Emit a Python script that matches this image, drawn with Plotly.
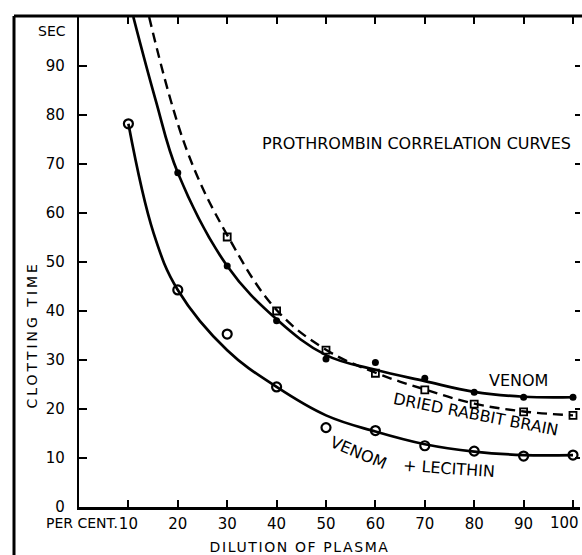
import plotly.graph_objects as go

# ---- data ----
dilution_ticks = [10, 20, 30, 40, 50, 60, 70, 80, 90, 100]
tick_text_x = ["10", "20", "30", "40", "50", "60", "70", "80", "90", ""]
last_tick_label = "100"
time_ticks = [0, 10, 20, 30, 40, 50, 60, 70, 80, 90]

venom_x = [20, 30, 40, 50, 60, 70, 80, 90, 100]
venom_y = [68.2, 49.2, 38.0, 30.2, 29.5, 26.3, 23.4, 22.4, 22.4]

brain_x = [30, 40, 50, 60, 70, 80, 90, 100]
brain_y = [55.1, 40.0, 32.0, 27.3, 23.9, 21.0, 19.4, 18.7]

lecithin_x = [10, 20, 30, 40, 50, 60, 70, 80, 90, 100]
lecithin_y = [78.2, 44.3, 35.3, 24.5, 16.2, 15.6, 12.5, 11.4, 10.4, 10.6]

# fitted curves as drawn in the reference
venom_curve_x = [11.0, 15.5, 20, 30, 40, 50, 60, 70, 80, 90, 100]
venom_curve_y = [100, 83.1, 68.2, 49.2, 38.3, 31.0, 28.0, 25.7, 23.5, 22.5, 22.4]

brain_curve_x = [14.2, 21.8, 30, 40, 50, 60, 70, 80, 90, 100]
brain_curve_y = [100, 72.9, 55.5, 40.2, 32.1, 27.4, 24.0, 21.1, 19.5, 18.7]

lecithin_curve_x = [10, 15.1, 20, 30, 40, 50, 60, 70, 80, 90, 100]
lecithin_curve_y = [78.2, 55.9, 44.3, 32.0, 24.5, 18.7, 15.4, 12.8, 11.3, 10.6, 10.6]

FONT = "DejaVu Sans"
L, R, T, B = 79, 2, 17, 48
W, H = 582, 555
PW, PH = W - L - R, H - T - B


def pp(xp, yp):
    """pixel -> paper coordinates"""
    return (xp - L) / PW, (H - B - yp) / PH


fig = go.Figure()

fig.add_trace(go.Scatter(x=venom_curve_x, y=venom_curve_y, mode="lines",
                         line=dict(color="black", width=2.7, shape="spline", smoothing=1.1),
                         hoverinfo="skip"))
fig.add_trace(go.Scatter(x=brain_curve_x, y=brain_curve_y, mode="lines",
                         line=dict(color="black", width=2.4, shape="spline", smoothing=1.1,
                                   dash="10px,6px"),
                         hoverinfo="skip"))
fig.add_trace(go.Scatter(x=lecithin_curve_x, y=lecithin_curve_y, mode="lines",
                         line=dict(color="black", width=2.7, shape="spline", smoothing=1.1),
                         hoverinfo="skip"))

fig.add_trace(go.Scatter(x=venom_x, y=venom_y, mode="markers", name="Venom",
                         marker=dict(symbol="circle", size=7, color="black")))
fig.add_trace(go.Scatter(x=brain_x, y=brain_y, mode="markers", name="Dried rabbit brain",
                         marker=dict(symbol="square-open", size=7, color="black",
                                     line=dict(width=1.8, color="black"))))
fig.add_trace(go.Scatter(x=lecithin_x, y=lecithin_y, mode="markers", name="Venom + lecithin",
                         marker=dict(symbol="circle-open", size=9, color="black",
                                     line=dict(width=2.2, color="black"))))

# empty trace so that mirror axes are drawn
fig.add_trace(go.Scatter(x=[], y=[], xaxis="x2", yaxis="y2", showlegend=False))

xmax = PW / 4.94
fig.update_layout(
    width=W, height=H,
    margin=dict(l=L, r=R, t=T, b=B, autoexpand=False),
    paper_bgcolor="white", plot_bgcolor="white",
    showlegend=False,
    font=dict(family=FONT, color="black", size=14),
    xaxis=dict(range=[0, xmax], tickvals=dilution_ticks, ticktext=tick_text_x,
               ticks="inside", ticklen=7, tickwidth=2, tickcolor="black",
               showline=True, linewidth=2.5, linecolor="black",
               showgrid=False, zeroline=False, tickfont=dict(size=15),
               ticklabelstandoff=1, ticklabeloverflow="allow", automargin=False),
    yaxis=dict(range=[0, 100], tickvals=time_ticks,
               ticks="inside", ticklen=8, tickwidth=2, tickcolor="black",
               showline=True, linewidth=2.2, linecolor="black",
               showgrid=False, zeroline=False, tickfont=dict(size=15),
               ticklabelstandoff=9, ticklabeloverflow="allow", automargin=False),
    xaxis2=dict(range=[0, xmax], overlaying="x", side="top", anchor="y",
                tickvals=dilution_ticks, ticks="inside", ticklen=7, tickwidth=2,
                tickcolor="black", showticklabels=False, showline=False,
                showgrid=False, zeroline=False, automargin=False),
    yaxis2=dict(range=[0, 100], overlaying="y", side="right", anchor="x",
                tickvals=time_ticks[1:], ticks="inside", ticklen=5, tickwidth=2,
                tickcolor="black", showticklabels=False, showline=False,
                showgrid=False, zeroline=False, automargin=False),
)

# outer frame of the original figure
fx0, fy0 = pp(14, 556)
fx1, fy1 = pp(583, 16)
fig.add_shape(type="line", xref="paper", yref="paper", x0=fx0, y0=fy0, x1=fx0, y1=fy1,
              line=dict(color="black", width=3))
fig.add_shape(type="line", xref="paper", yref="paper", x0=fx0, y0=fy1, x1=fx1, y1=fy1,
              line=dict(color="black", width=3))


def ann(text, xp, yp, size=14, angle=0, xanchor="center"):
    x, y = pp(xp, yp)
    fig.add_annotation(text=text, x=x, y=y, xref="paper", yref="paper",
                       showarrow=False, xanchor=xanchor, yanchor="middle",
                       textangle=angle, font=dict(family=FONT, size=size, color="black"))


ann("SEC", 52, 31, size=14)
ann("CLOTTING TIME", 32, 335, size=14, angle=-90)
ann("PER CENT.", 120, 523, size=14, xanchor="right")
ann(last_tick_label, 581, 523, size=15, xanchor="right")
ann("DILUTION OF PLASMA", 300, 547, size=14)
ann("PROTHROMBIN CORRELATION CURVES", 416, 143, size=16)
ann("VENOM", 518, 380, size=16)
ann("DRIED RABBIT BRAIN", 476, 414, size=16, angle=11)
ann("VENOM", 358, 452, size=16, angle=23)
ann("+ LECITHIN", 449, 468, size=16, angle=4)

post = """
document.body.style.margin='0px';
document.body.style.padding='0px';
var sp = {'CLOTTING TIME': '3px', 'DILUTION OF PLASMA': '1.6px'};
document.querySelectorAll('.annotation-text').forEach(function(t){
  var k = t.textContent;
  if (sp[k]) { t.style.letterSpacing = sp[k]; }
});
"""
fig.write_html("out.html", post_script=post, config={"displayModeBar": False})
